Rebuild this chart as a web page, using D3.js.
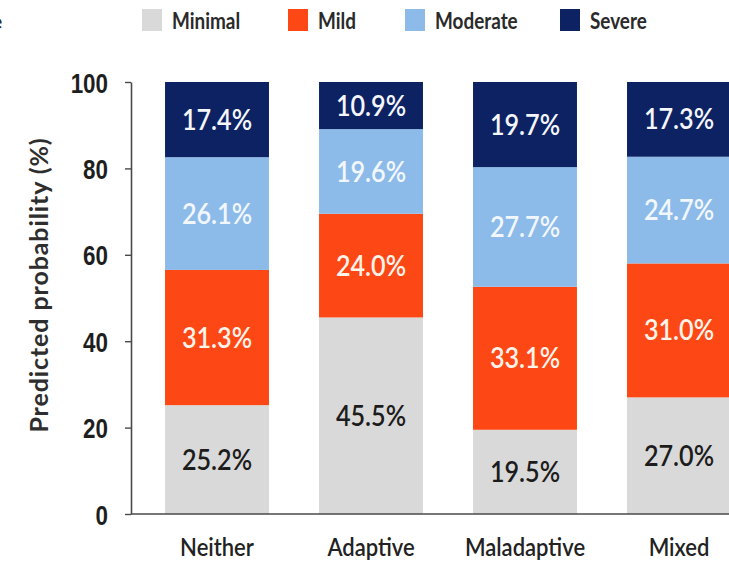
<!DOCTYPE html>
<html>
<head>
<meta charset="utf-8">
<script src="https://cdn.jsdelivr.net/npm/d3@7/dist/d3.min.js"></script>
<style>
  html, body { margin: 0; padding: 0; background: #ffffff; }
  svg { display: block; }
</style>
</head>
<body>
<svg id="chart" width="729" height="565"></svg>
<script>
// Predicted probability of each severity level, by coping profile
const categories = ["Neither", "Adaptive", "Maladaptive", "Mixed"];
const levels = ["Minimal", "Mild", "Moderate", "Severe"];
const minimal  = [25.2, 45.5, 19.5, 27.0];
const mild     = [31.3, 24.0, 33.1, 31.0];
const moderate = [26.1, 19.6, 27.7, 24.7];
const severe   = [17.4, 10.9, 19.7, 17.3];
const yTicks   = [0, 20, 40, 60, 80, 100];

const colors   = { Minimal: "#d9d9d9", Mild: "#fd4714", Moderate: "#8dbbe9", Severe: "#0c2263" };
const inkColor = { Minimal: "#1c1c1c", Mild: "#fff3ea", Moderate: "#f2f7fd", Severe: "#f4f6fb" };

const rows = categories.map((c, i) => ({
  category: c,
  Minimal: minimal[i], Mild: mild[i], Moderate: moderate[i], Severe: severe[i]
}));
const series = d3.stack().keys(levels)(rows);

const svg = d3.select("#chart");
const x = d3.scaleBand().domain(categories).range([131, 765]).paddingInner(0.325).paddingOuter(0.221);
const y = d3.scaleLinear().domain([0, 100]).range([514, 82]);

// Horizontally condensed text helper
function condensed(sel, sx) {
  sel.each(function () {
    const t = d3.select(this);
    const px = +t.attr("data-x"), py = +t.attr("data-y");
    t.attr("transform", `translate(${px},${py}) scale(${sx},1)`);
  });
}

// Stacked bars
const layer = svg.append("g").selectAll("g").data(series).join("g")
  .attr("fill", d => colors[d.key]);
layer.selectAll("rect").data(d => d).join("rect")
  .attr("x", d => x(d.data.category))
  .attr("width", x.bandwidth())
  .attr("y", d => y(d[1]))
  .attr("height", d => y(d[0]) - y(d[1]));

// Segment value labels
const labels = svg.append("g");
series.forEach(s => {
  labels.selectAll(null).data(s).join("text")
    .attr("data-x", d => x(d.data.category) + x.bandwidth() / 2)
    .attr("data-y", d => (y(d[0]) + y(d[1])) / 2)
    .attr("dy", "0.36em")
    .attr("text-anchor", "middle")
    .attr("font-family", "Lato, 'Open Sans', sans-serif")
    .attr("font-weight", 600)
    .attr("font-size", 28)
    .attr("fill", inkColor[s.key])
    .text(d => d.data[s.key].toFixed(1) + "%")
    .call(condensed, 0.9);
});

// Y axis
const yAxis = svg.append("g")
  .attr("transform", "translate(131,0)")
  .call(d3.axisLeft(y).tickValues(yTicks).tickSize(6).tickSizeOuter(0));
yAxis.select(".domain").attr("stroke", "#4a4a4a").attr("stroke-width", 1.6);
yAxis.selectAll(".tick line").attr("stroke", "#4a4a4a").attr("stroke-width", 1.4);
yAxis.selectAll(".tick text")
  .attr("x", null).attr("dy", "0.36em")
  .attr("transform", "translate(-23,0) scale(0.8,1)")
  .attr("font-family", "'Liberation Sans', Arial, sans-serif")
  .attr("font-weight", 700)
  .attr("font-size", 28)
  .attr("fill", "#1e1e1e");

// X baseline and category labels
const xAxis = svg.append("g")
  .attr("transform", "translate(0,514)")
  .call(d3.axisBottom(x).tickSize(0).tickSizeOuter(0));
xAxis.select(".domain").attr("d", "M131,0H729").attr("stroke", "#4a4a4a").attr("stroke-width", 1.6);
xAxis.selectAll(".tick text")
  .attr("y", null).attr("dy", null)
  .attr("transform", "translate(0,42) scale(0.88,1)")
  .attr("font-family", "Lato, 'Open Sans', sans-serif")
  .attr("font-weight", 600)
  .attr("font-size", 25)
  .attr("fill", "#222222");

// Y axis title
svg.append("text")
  .attr("transform", "translate(48,285) rotate(-90)")
  .attr("text-anchor", "middle")
  .attr("font-family", "Lato, 'Open Sans', sans-serif")
  .attr("font-weight", 700)
  .attr("font-size", 25)
  .attr("letter-spacing", 0.9)
  .attr("fill", "#2e2e2e")
  .text("Predicted probability (%)");

// Legend
const legendX = [142, 288, 405, 560];
const legend = svg.append("g").selectAll("g").data(levels).join("g")
  .attr("transform", (d, i) => `translate(${legendX[i]},0)`);
legend.append("rect")
  .attr("x", 0).attr("y", 9).attr("width", 20).attr("height", 22)
  .attr("fill", d => colors[d]);
legend.append("text")
  .attr("data-x", 30).attr("data-y", 29)
  .attr("font-family", "Lato, 'Open Sans', sans-serif")
  .attr("font-weight", 700)
  .attr("font-size", 22)
  .attr("fill", "#2a2a2a")
  .text(d => d)
  .call(condensed, 0.86);

// Edge of the title text on the left
svg.append("text")
  .attr("x", -9).attr("y", 29)
  .attr("font-family", "Lato, 'Open Sans', sans-serif")
  .attr("font-weight", 700)
  .attr("font-size", 21)
  .attr("fill", "#2a2a2a")
  .text("e");
</script>
</body>
</html>
